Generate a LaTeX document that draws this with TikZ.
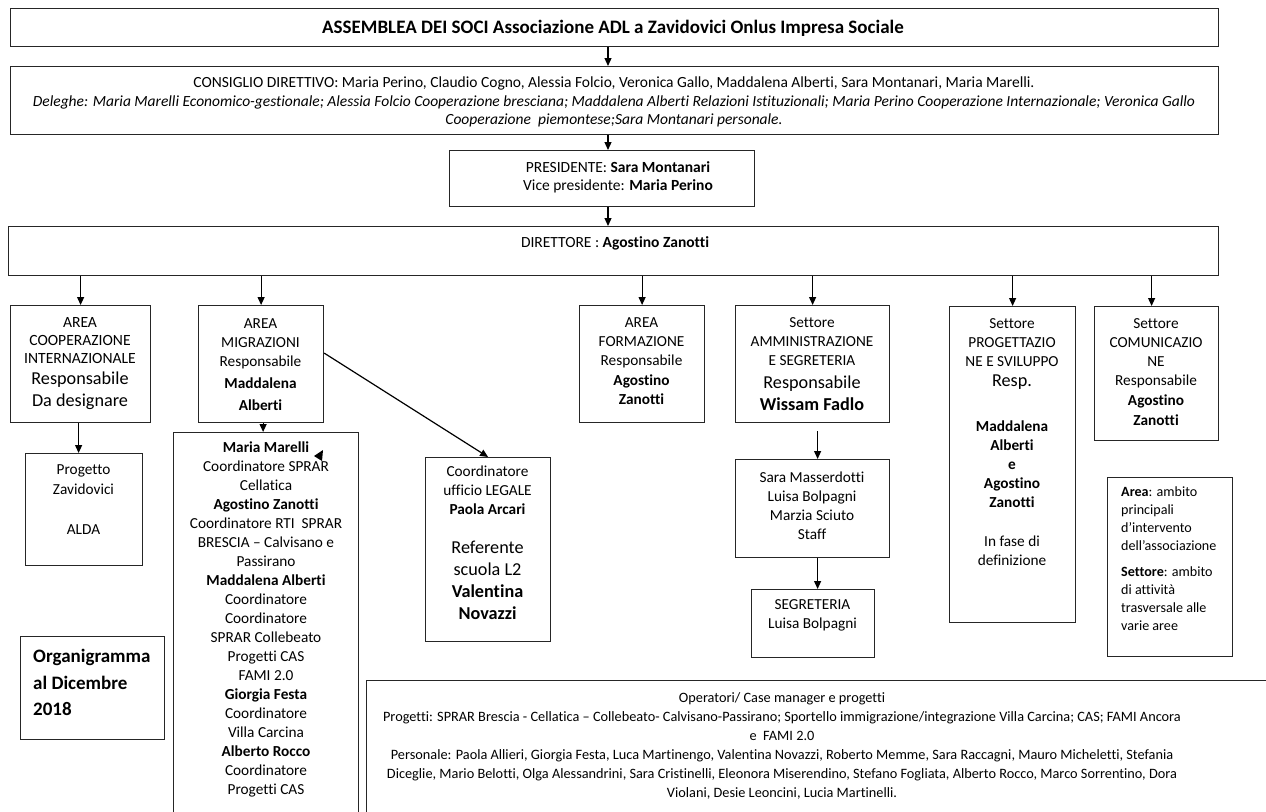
\documentclass[tikz,border=0pt]{standalone}
\usepackage{fontspec}
\setmainfont{Carlito}[Ligatures=NoCommon]
\usetikzlibrary{arrows.meta}
\newcommand\fs[2]{\fontsize{#1}{#2}\selectfont}
\begin{document}
\begin{tikzpicture}[x=1pt,y=-1pt,
  box/.style={draw=black!85, line width=1.2pt, rectangle, inner sep=0pt, anchor=north west},
  arr/.style={line width=1.2pt, draw=black, -{Triangle[length=8pt,width=7pt]}},
  txt/.style={align=center, inner sep=0pt, text=black},
  norm/.style={font=\fs{15.3}{19}},
  big/.style={font=\fs{18.2}{22}}]
\useasboundingbox (0,0) rectangle (1266,811);
\fill[white] (0,0) rectangle (1266,811);
\clip (0,0) rectangle (1266,811);

% boxes
\node[box, minimum width=1208pt, minimum height=38pt] (ass) at (10,8) {};
\node[box, minimum width=1208pt, minimum height=68pt] (cons) at (10,66) {};
\node[box, minimum width=305pt, minimum height=56pt] (pres) at (449,150) {};
\node[box, minimum width=1210pt, minimum height=49pt] (dir) at (8,226) {};
\node[box, minimum width=140pt, minimum height=117pt] (coop) at (10,305) {};
\node[box, minimum width=117pt, minimum height=112pt] (prog) at (25,453) {};
\node[box, minimum width=125pt, minimum height=117pt] (migr) at (198,305) {};
\node[box, minimum width=185pt, minimum height=420pt] (list) at (173,432) {};
\node[box, minimum width=125pt, minimum height=184pt] (legal) at (425,457) {};
\node[box, minimum width=125pt, minimum height=117pt] (form) at (579,305) {};
\node[box, minimum width=154pt, minimum height=117pt] (ammin) at (735,305) {};
\node[box, minimum width=154pt, minimum height=98pt] (staff) at (735,459) {};
\node[box, minimum width=123pt, minimum height=68pt] (segr) at (751,589) {};
\node[box, minimum width=126pt, minimum height=316pt] (progett) at (949,306) {};
\node[box, minimum width=124pt, minimum height=134pt] (comun) at (1094,306) {};
\node[box, minimum width=125pt, minimum height=179pt] (legend) at (1107,477) {};
\node[box, minimum width=144pt, minimum height=103pt] (organ) at (20,636) {};
\node[box, minimum width=950pt, minimum height=200pt] (oper) at (366,680) {};

% texts
\node[txt, font=\bfseries\fs{19}{22}] (t-ass) at (613,28) {ASSEMBLEA DEI SOCI Associazione ADL a Zavidovici Onlus Impresa Sociale};
\node[txt, font=\fs{15.5}{18.5}] (t-cons) at (614,102) {CONSIGLIO DIRETTIVO: Maria Perino, Claudio Cogno, Alessia Folcio, Veronica Gallo, Maddalena Alberti, Sara Montanari, Maria Marelli.\\
{\itshape Deleghe: Maria Marelli Economico-gestionale; Alessia Folcio Cooperazione bresciana; Maddalena Alberti Relazioni Istituzionali; Maria Perino Cooperazione Internazionale; Veronica Gallo}\\
{\itshape Cooperazione\ \ piemontese;Sara Montanari personale.}};
\node[txt, font=\fs{15.5}{18}] (t-pres) at (618,177) {PRESIDENTE: \textbf{Sara Montanari}\\Vice presidente: \textbf{Maria Perino}};
\node[txt, font=\fs{15.5}{18}] (t-dir) at (615,243) {DIRETTORE : \textbf{Agostino Zanotti}};

\node[txt, font=\fs{15.6}{18}] (t-coop1) at (80,341) {AREA\\COOPERAZIONE\\INTERNAZIONALE};
\node[txt, big] (t-coop2) at (80,391) {Responsabile\\Da designare};
\node[txt, font=\fs{15.3}{20}] (t-prog) at (83.5,500) {Progetto\\Zavidovici\\[20pt]ALDA};

\node[txt, norm] (t-migr) at (260.5,365) {AREA\\MIGRAZIONI\\Responsabile\\[3pt]\textbf{Maddalena}\\[3pt]\textbf{Alberti}};
\node[txt, norm] (t-list) at (266,619) {\textbf{Maria Marelli}\\Coordinatore SPRAR\\Cellatica\\\textbf{Agostino Zanotti}\\Coordinatore RTI\ \ SPRAR\\BRESCIA -- Calvisano e\\Passirano\\\textbf{Maddalena Alberti}\\Coordinatore\\Coordinatore\\SPRAR Collebeato\\Progetti CAS\\FAMI 2.0\\\textbf{Giorgia Festa}\\Coordinatore\\Villa Carcina\\\textbf{Alberto Rocco}\\Coordinatore\\Progetti CAS};
\node[txt, norm] (t-legal1) at (487.5,490) {Coordinatore\\ufficio LEGALE\\\textbf{Paola Arcari}};
\node[txt, big] (t-legal2) at (487.5,580) {Referente\\scuola L2\\\textbf{Valentina}\\\textbf{Novazzi}};

\node[txt, norm] (t-form) at (641.5,361.5) {AREA\\FORMAZIONE\\Responsabile\\[1pt]\textbf{Agostino}\\\textbf{Zanotti}};
\node[txt, norm] (t-amm1) at (812,342) {Settore\\AMMINISTRAZIONE\\E SEGRETERIA};
\node[txt, big] (t-amm2) at (812,393) {Responsabile\\\textbf{Wissam Fadlo}};
\node[txt, norm] (t-staff) at (812,505.5) {Sara Masserdotti\\Luisa Bolpagni\\Marzia Sciuto\\Staff};
\node[txt, norm] (t-segr) at (812.5,615.5) {SEGRETERIA\\Luisa Bolpagni};

\node[txt, norm] (t-pg1) at (1012,343) {Settore\\PROGETTAZIO\\NE E SVILUPPO};
\node[txt, big] (t-pg2) at (1012,382) {Resp.};
\node[txt, norm] (t-pg3) at (1012,464.5) {\textbf{Maddalena}\\\textbf{Alberti}\\\textbf{e}\\\textbf{Agostino}\\\textbf{Zanotti}};
\node[txt, norm] (t-pg4) at (1012,550.5) {In fase di\\definizione};
\node[txt, norm] (t-com) at (1156,372.5) {Settore\\COMUNICAZIO\\NE\\Responsabile\\[1pt]\textbf{Agostino}\\[1pt]\textbf{Zanotti}};

\node[txt, align=left, anchor=west, font=\fs{14.1}{18}] (t-leg) at (1121,559) {\textbf{Area}: ambito\\principali\\d’intervento\\dell’associazione\\[8pt]\textbf{Settore}: ambito\\di attività\\trasversale alle\\varie aree};
\node[txt, align=left, anchor=west, font=\bfseries\fs{19}{26.5}] (t-org) at (33,682.5) {Organigramma\\al Dicembre\\2018};
\node[txt, font=\fs{14.3}{19}] (t-oper) at (782,745.5) {Operatori/ Case manager e progetti\\
Progetti: SPRAR Brescia - Cellatica -- Collebeato- Calvisano-Passirano; Sportello immigrazione/integrazione Villa Carcina; CAS; FAMI Ancora\\
e\ \ FAMI 2.0\\
Personale: Paola Allieri, Giorgia Festa, Luca Martinengo, Valentina Novazzi, Roberto Memme, Sara Raccagni, Mauro Micheletti, Stefania\\
Diceglie, Mario Belotti, Olga Alessandrini, Sara Cristinelli, Eleonora Miserendino, Stefano Fogliata, Alberto Rocco, Marco Sorrentino, Dora\\
Violani, Desie Leoncini, Lucia Martinelli.};

% connectors
\coordinate (cx) at (608,0);
\draw[arr] (ass.south -| cx) -- (cons.north -| cx);
\draw[arr] (cons.south -| cx) -- (pres.north -| cx);
\draw[arr] (pres.south -| cx) -- (dir.north -| cx);
\draw[arr] (dir.south -| coop.north) -- (coop.north);
\draw[arr] (dir.south -| migr.north) -- (migr.north);
\draw[arr] (dir.south -| form.north) -- (form.north);
\draw[arr] (dir.south -| ammin.north) -- (ammin.north);
\draw[arr] (dir.south -| progett.north) -- (progett.north);
\draw[arr] ([xshift=-5pt]dir.south -| comun.north) -- ([xshift=-5pt]comun.north);
\draw[arr] ([xshift=-2pt]coop.south) -- ([xshift=-2pt]coop.south |- prog.north);
\draw[arr] ([xshift=2pt]migr.south) -- ([xshift=2pt]migr.south |- list.north);
\draw[arr] ([yshift=11pt]migr.east) -- (legal.north);
\draw[arr] ([xshift=5pt,yshift=-8pt]ammin.south) -- ([xshift=5pt]staff.north);
\draw[arr] ([xshift=5pt]staff.south) -- ([xshift=5pt]staff.south |- segr.north);
\fill (314,456) -- (323,450) -- (322,461) -- cycle;
\end{tikzpicture}
\end{document}
